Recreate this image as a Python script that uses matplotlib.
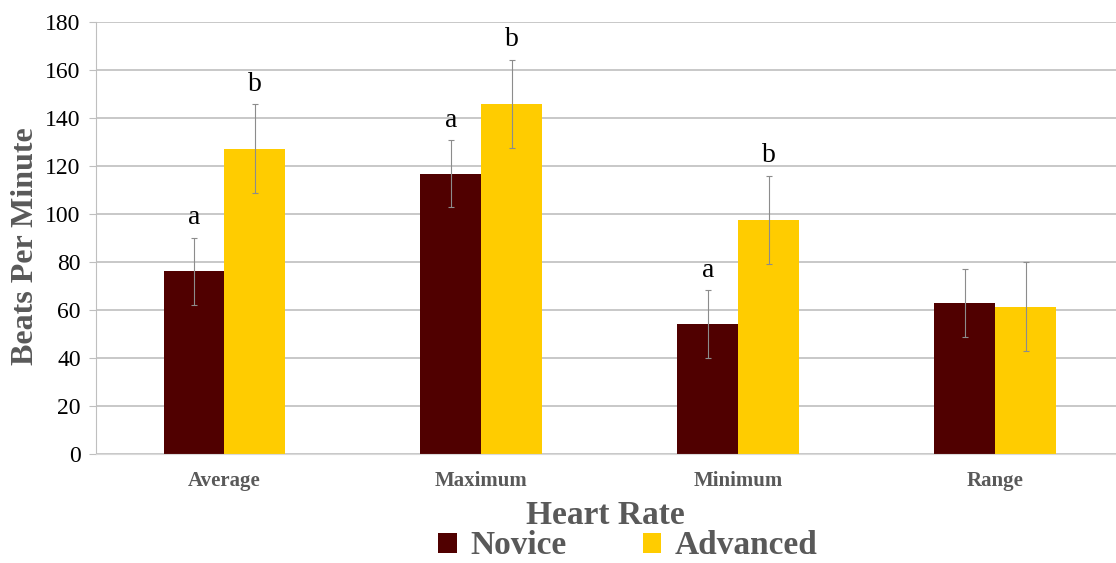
import matplotlib
matplotlib.use("Agg")
import matplotlib.pyplot as plt
import numpy as np

categories = ["Average", "Maximum", "Minimum", "Range"]
novice = [76.2, 116.8, 54.2, 62.9]
advanced = [127.2, 145.8, 97.5, 61.3]
novice_err = [14, 14, 14, 14]
advanced_err = [18.5, 18.5, 18.5, 18.5]
novice_letters = ["a", "a", "a", ""]
advanced_letters = ["b", "b", "b", ""]
yticks = [0, 20, 40, 60, 80, 100, 120, 140, 160, 180]

plt.rcParams['font.family'] = ['Liberation Serif', 'DejaVu Serif']
gray = "#595959"
maroon = "#500000"
gold = "#FFCC00"

fig = plt.figure(figsize=(11.16, 5.63), dpi=100)
ax = fig.add_axes([96/1116, 1 - 454/563, 1 - 96/1116, 432/563])

x = np.arange(len(categories))
w = 0.237
b1 = ax.bar(x - w/2, novice, w, color=maroon, label="Novice", zorder=2)
b2 = ax.bar(x + w/2, advanced, w, color=gold, label="Advanced", zorder=2)
ax.errorbar(x - w/2, novice, yerr=novice_err, fmt="none", ecolor="#8c8c8c",
            elinewidth=0.8, capsize=2, capthick=0.8, zorder=3)
ax.errorbar(x + w/2, advanced, yerr=advanced_err, fmt="none", ecolor="#8c8c8c",
            elinewidth=0.8, capsize=2, capthick=0.8, zorder=3)

for i in range(len(categories)):
    if novice_letters[i]:
        ax.text(x[i] - w/2, novice[i] + novice_err[i] + 3, novice_letters[i],
                ha="center", va="bottom", fontsize=20, color="black")
    if advanced_letters[i]:
        ax.text(x[i] + w/2, advanced[i] + advanced_err[i] + 3, advanced_letters[i],
                ha="center", va="bottom", fontsize=20, color="black")

ax.set_ylim(0, 180)
ax.set_xlim(-0.5, 3.47)
ax.set_yticks(yticks)
ax.set_yticklabels([str(t) for t in yticks], fontsize=17, color="black")
ax.set_xticks(x)
ax.set_xticklabels(categories, fontsize=15, fontweight="bold", color=gray)
ax.tick_params(axis="x", length=0, pad=12)
ax.tick_params(axis="y", length=5, color="#bfbfbf", pad=6)
ax.yaxis.grid(True, color="#bfbfbf", linewidth=1.2, zorder=0)
ax.set_axisbelow(True)
for s in ["top", "right"]:
    ax.spines[s].set_visible(False)
ax.spines["left"].set_color("#bfbfbf")
ax.spines["bottom"].set_color("#d9d9d9")

fig.text(26/1116, 1 - 246/563, "Beats Per Minute", fontsize=23, fontweight="bold",
         color=gray, ha="center", va="center", rotation=90)
fig.text(605/1116, 1 - 515/563, "Heart Rate", fontsize=24, fontweight="bold",
         color=gray, ha="center", va="center")

leg = fig.legend(handles=[b1, b2], labels=["Novice", "Advanced"], loc="center",
                 bbox_to_anchor=(628/1116, 1 - 546/563), ncol=2, frameon=False,
                 prop={"size": 24, "weight": "bold"}, handlelength=0.55, handleheight=0.55,
                 columnspacing=2.3, handletextpad=0.4, borderpad=0)
for t in leg.get_texts():
    t.set_color(gray)

fig.savefig("out.png", dpi=100)
